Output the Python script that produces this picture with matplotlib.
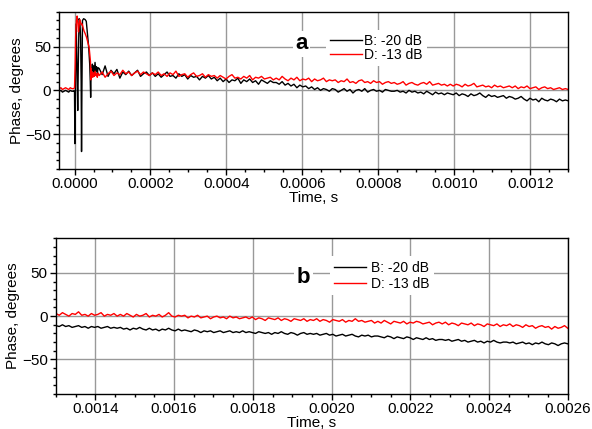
import numpy as np
import matplotlib
matplotlib.use("Agg")
import matplotlib.pyplot as plt
from matplotlib.ticker import MultipleLocator, FormatStrFormatter

plt.rcParams['font.family'] = ['Liberation Sans', 'DejaVu Sans']

# ---- panel a: pre-trigger (time in microseconds) ----
pre_t_us = np.linspace(-40, -3, 10)
b_pre = [-1, 0, -2, -1, 0, -1, -2, 0, -1, -1]
d_pre = [2, 3, 1, 2, 3, 2, 1, 3, 2, 2]

# ---- panel a: spike around t = 0 (microseconds, degrees) ----
b_spike_t = [-2, 0, 1, 2.5, 4.5, 6, 8.5, 10, 12, 14, 16, 17.5, 18.5, 19.5, 21, 24, 28, 31,
             34, 37, 40, 41.5, 42.5, 43.5, 45.5, 47, 48.5, 50, 52, 54, 56, 58, 60, 62]
b_spike_v = [-0.5, -1, -61, 10, 76, 40, -23, 30, 82, 80, 60, 10, -70, 0, 80, 82, 81, 79,
             65, 51, 30, 10, -8, 15, 25, 30, 22, 28, 20, 32, 22, 27, 19, 26]
d_spike_t = [-2, 0, 1.5, 3, 5, 7, 8.5, 10.5, 12.5, 14, 16, 18, 20, 22.5, 25, 28, 31.5, 35,
             38.5, 40.5, 42, 43, 44, 45, 46.5, 48, 50, 52, 54, 56, 58, 60, 62]
d_spike_v = [2, 3, 25, 62, 80, 85, 78, 67, 76, 81, 78, 75, 76, 72, 68, 65, 61, 55,
             49, 40, 33, 12, 25, 17, 21, 15, 20, 16, 22, 17, 19, 15, 20]

# ---- panel a: tail, sampled evenly from 65 us to 1300 us ----
tail_a_t_us = np.linspace(65, 1300, 160)
b_tail_a = [25, 18, 28, 16, 23, 19, 24, 14, 21, 18, 22, 17, 20, 23, 16, 19, 21, 17, 20, 16,
            19, 15, 18, 21, 16, 17, 14, 19, 16, 18, 13, 17, 15, 16, 12, 16, 14, 17, 13, 15,
            11, 14, 10, 13, 9, 12, 11, 14, 8, 12, 10, 13, 9, 11, 7, 12, 10, 8, 11, 9,
            9, 7, 10, 6, 8, 5, 7, 3, 6, 4, 5, 2, 4, 1, 3, 0, 2, 1, -1, 2,
            1, -2, 0, 2, -1, 1, -3, 0, 1, -1, 2, -2, 0, 1, -1, 0, -2, 1, 0, -1,
            -1, 0, -2, -1, -3, 0, -2, -1, -3, -2, -4, -1, -3, -5, -2, -4, -3, -5, -3, -4,
            -5, -3, -6, -4, -5, -7, -4, -6, -5, -3, -6, -8, -5, -7, -6, -8, -7, -6, -9, -7,
            -8, -10, -9, -7, -10, -12, -9, -11, -10, -13, -9, -11, -12, -10, -11, -13, -10, -12, -11, -12]
d_tail_a = [17, 21, 15, 19, 22, 17, 20, 18, 23, 19, 21, 17, 20, 22, 18, 21, 19, 17, 20, 18,
            21, 17, 19, 16, 20, 18, 22, 16, 18, 19, 15, 18, 20, 16, 17, 19, 15, 18, 16, 17,
            14, 17, 15, 13, 16, 18, 14, 15, 13, 16, 14, 17, 12, 15, 14, 16, 13, 14, 15, 12,
            14, 12, 16, 13, 11, 14, 12, 15, 11, 13, 12, 14, 10, 13, 11, 12, 14, 10, 12, 11,
            12, 9, 11, 10, 13, 9, 10, 8, 11, 12, 9, 10, 8, 11, 9, 10, 7, 9, 10, 8,
            9, 7, 8, 10, 6, 8, 9, 7, 6, 8, 9, 7, 10, 6, 7, 8, 6, 7, 5, 7,
            5, 7, 6, 4, 7, 5, 6, 8, 4, 5, 6, 4, 5, 3, 6, 4, 5, 3, 4, 5,
            3, 5, 2, 4, 3, 5, 2, 3, 4, 1, 3, 4, 2, 3, 1, 2, 3, 1, 2, 1]

# ---- panel b: 1300 us to 2600 us ----
tail_b_t_us = np.linspace(1300, 2600, 160)
b_tail_b = [-11, -12, -10, -12, -11, -13, -12, -11, -13, -12, -14, -12, -13, -12, -14, -13, -12, -14, -13, -14,
            -13, -15, -14, -16, -14, -15, -13, -15, -16, -14, -16, -15, -17, -15, -16, -14, -16, -17, -15, -17,
            -16, -17, -18, -16, -17, -19, -17, -18, -17, -19, -18, -17, -19, -18, -17, -19, -18, -19, -17, -19,
            -18, -19, -20, -18, -19, -20, -19, -21, -19, -20, -18, -20, -21, -19, -20, -22, -20, -19, -21, -20,
            -21, -20, -22, -21, -20, -22, -21, -23, -22, -21, -23, -22, -21, -23, -24, -22, -23, -22, -24, -23,
            -23, -24, -25, -23, -24, -26, -24, -25, -26, -24, -25, -27, -25, -26, -27, -25, -27, -26, -28, -27,
            -27, -28, -27, -29, -28, -27, -29, -28, -30, -29, -28, -30, -29, -31, -29, -30, -28, -30, -31, -30,
            -30, -31, -30, -32, -31, -30, -32, -31, -33, -31, -32, -30, -32, -33, -31, -32, -34, -32, -31, -32]
d_tail_b = [3, 1, 4, 2, 0, 3, 2, 5, 1, 2, 0, 3, 1, 2, 4, 0, 2, 1, 3, 0,
            2, 0, 3, 1, -1, 2, 0, 1, 3, -1, 1, 0, 2, -1, 1, 4, 0, -1, 1, 0,
            1, -2, 0, -1, 1, -2, -1, 0, -3, -1, 0, -2, -1, -3, 0, -2, -1, -3, -2, -1,
            -3, -1, -4, -2, -3, -5, -2, -3, -4, -2, -5, -3, -4, -6, -3, -4, -5, -3, -6, -4,
            -5, -3, -6, -4, -5, -7, -4, -5, -6, -4, -7, -5, -6, -3, -6, -5, -7, -6, -5, -8,
            -6, -8, -5, -7, -9, -6, -7, -8, -6, -9, -7, -8, -6, -7, -9, -8, -7, -10, -8, -7,
            -9, -7, -10, -8, -9, -11, -8, -9, -10, -8, -11, -9, -10, -12, -9, -10, -11, -9, -12, -10,
            -11, -9, -12, -10, -11, -13, -10, -12, -11, -14, -12, -11, -13, -12, -15, -12, -14, -13, -11, -14]

labels = ["B: -20 dB", "D: -13 dB"]

# assemble panel a series (convert us -> s)
ta_b = np.concatenate([pre_t_us, b_spike_t, tail_a_t_us]) * 1e-6
va_b = np.concatenate([b_pre, b_spike_v, b_tail_a])
ta_d = np.concatenate([pre_t_us, d_spike_t, tail_a_t_us]) * 1e-6
va_d = np.concatenate([d_pre, d_spike_v, d_tail_a])
tb = tail_b_t_us * 1e-6

fig = plt.figure(figsize=(5.92, 4.29), dpi=100)
ax1 = fig.add_axes([0.1002, 0.606, 0.8598, 0.3667])
ax2 = fig.add_axes([0.0946, 0.0816, 0.8644, 0.363])


def style(ax, xlim, letter, letter_xy, leg_anchor, spacing, textpad):
    ax.set_xlim(*xlim)
    ax.set_ylim(-90, 90)
    ax.xaxis.set_major_locator(MultipleLocator(0.0002))
    ax.xaxis.set_minor_locator(MultipleLocator(0.00005))
    ax.xaxis.set_major_formatter(FormatStrFormatter('%.4f'))
    ax.yaxis.set_major_locator(MultipleLocator(50))
    ax.yaxis.set_minor_locator(MultipleLocator(10))
    ax.grid(True, which='major', color='#999999', linewidth=1)
    ax.set_axisbelow(True)
    ax.tick_params(which='major', direction='out', length=4, width=1, labelsize=11, pad=2)
    ax.tick_params(which='minor', direction='out', length=2.5, width=1)
    for s in ax.spines.values():
        s.set_linewidth(1)
    ax.set_xlabel("Time, s", fontsize=11, labelpad=0)
    ax.set_ylabel("Phase, degrees", fontsize=11, labelpad=1)
    ax.text(letter_xy[0], letter_xy[1], letter, transform=ax.transAxes, fontsize=16,
            fontweight='bold', ha='center', va='center',
            bbox=dict(facecolor='white', edgecolor='none', pad=2))
    leg = ax.legend(loc='upper left', bbox_to_anchor=leg_anchor, fontsize=10,
                    handlelength=2.3, handletextpad=textpad, labelspacing=spacing,
                    borderpad=0.3, borderaxespad=0, frameon=True, fancybox=False)
    leg.get_frame().set_facecolor('white')
    leg.get_frame().set_edgecolor('none')
    leg.get_frame().set_alpha(1)


ax1.plot(ta_b, va_b, color='black', linewidth=1, label=labels[0])
ax1.plot(ta_d, va_d, color='red', linewidth=1, label=labels[1])
style(ax1, (-0.00004, 0.0013), 'a', (0.476, 0.795), (0.524, 0.884), 0.0, 0.15)

ax2.plot(tb, b_tail_b, color='black', linewidth=1, label=labels[0])
ax2.plot(tb, d_tail_b, color='red', linewidth=1, label=labels[1])
style(ax2, (0.0013, 0.0026), 'b', (0.483, 0.745), (0.536, 0.883), 0.15, 0.36)

fig.savefig("out.png", dpi=100)
